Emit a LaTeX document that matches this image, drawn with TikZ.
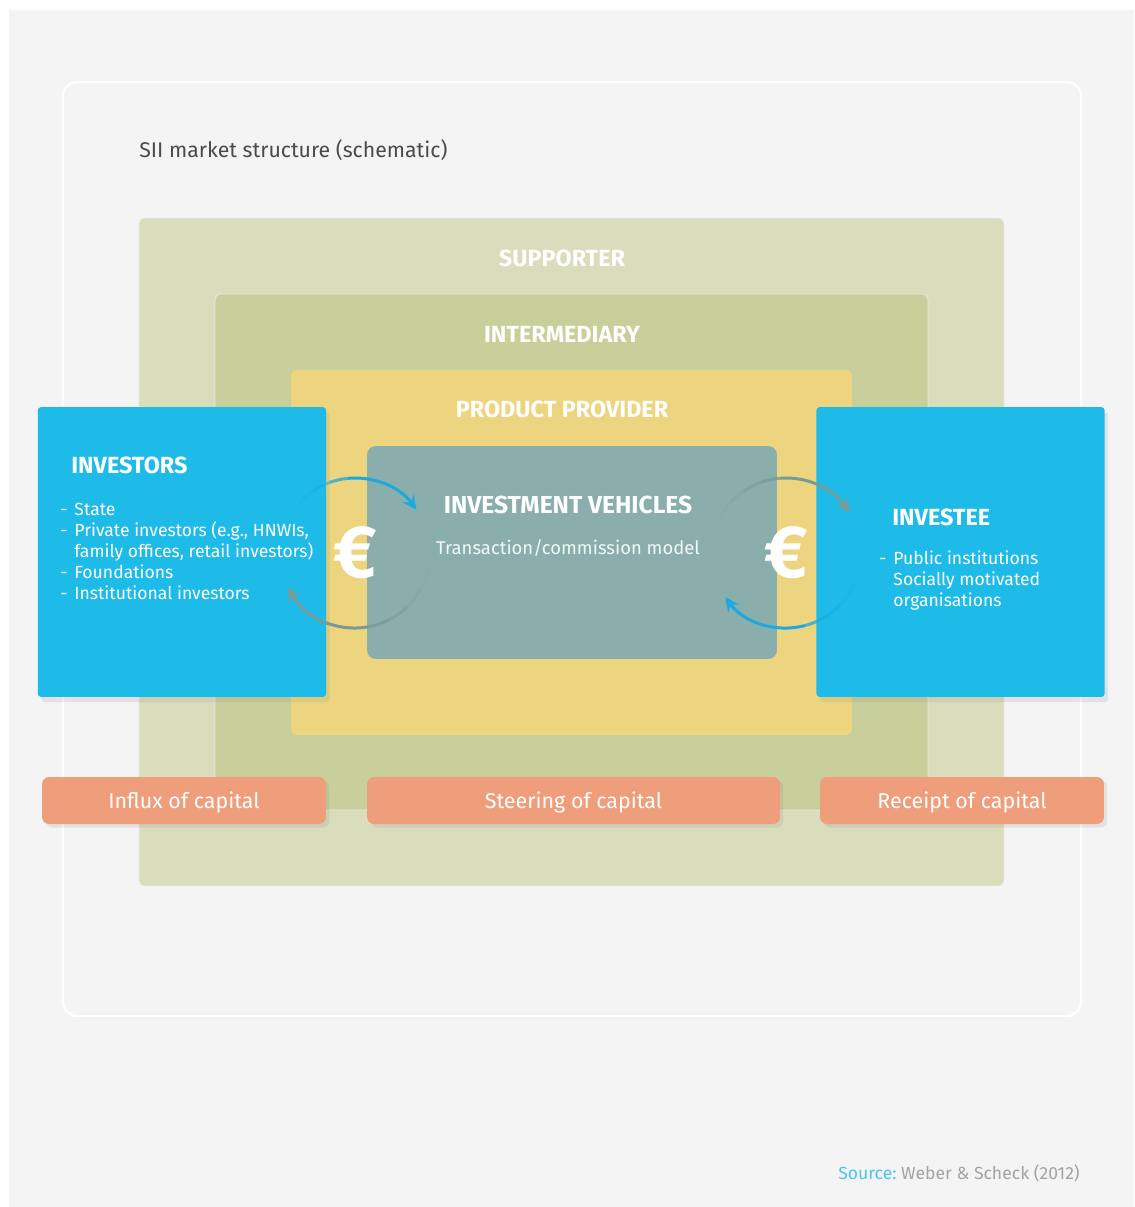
\documentclass[tikz,border=0pt]{standalone}
\usepackage{fontspec}
\setmainfont{Fira Sans}
\usetikzlibrary{arrows.meta, positioning, shadows}
\definecolor{pagegray}{HTML}{F4F4F4}
\definecolor{supportergreen}{HTML}{D9DDBC}
\definecolor{intergreen}{HTML}{C8CF9A}
\definecolor{productyellow}{HTML}{EDD57F}
\definecolor{vehiclegray}{HTML}{8AAEAB}
\definecolor{actorblue}{HTML}{1EBBE8}
\definecolor{capitalred}{HTML}{EF9E7C}
\definecolor{titlegray}{HTML}{4A4A4A}
\definecolor{sourceblue}{HTML}{4DC3EE}
\definecolor{sourcegray}{HTML}{A3A3A3}
\definecolor{arrowblue}{HTML}{1CA8E0}
\definecolor{arrowgray}{HTML}{789A98}
\def\eurorad{75}
\newcommand{\fadearc}[4]{%
  \pgfmathsetmacro\fstep{(#3-(#2))*0.12}%
  \foreach \k/\o in {0/0.08,1/0.25,2/0.5,3/0.78}{%
    \draw[#4, line width=1.7pt, opacity=\o] ([shift={(#2+\k*\fstep:\eurorad)}]#1.center)
      arc[start angle=#2+\k*\fstep, delta angle=\fstep, radius=\eurorad];}%
  \draw[#4, line width=1.7pt, -{Stealth[length=8pt, width=7.5pt]}] ([shift={(#2+4*\fstep:\eurorad)}]#1.center)
    arc[start angle=#2+4*\fstep, end angle=#3, radius=\eurorad];}

\begin{document}
\begin{tikzpicture}[x=0.02cm, y=-0.02cm]
    \tikzstyle{layer}=[rectangle, rounded corners=3pt, inner sep=0pt, draw=black!8]
    \tikzstyle{layer title}=[text=white, font=\bfseries\fontsize{13.3}{15}\selectfont]
    \tikzstyle{actor}=[rectangle, rounded corners=2pt, fill=actorblue, inner sep=0pt, minimum width=5.77cm, minimum height=5.8cm, drop shadow={opacity=.15, shadow xshift=2pt, shadow yshift=-3pt}]
    \tikzstyle{item}=[text=white, font=\fontsize{10}{12}\selectfont, align=left, inner sep=0pt]
    \tikzstyle{capital}=[rectangle, rounded corners=4pt, fill=capitalred, text=white, font=\fontsize{12.2}{14}\selectfont, minimum height=0.94cm, inner sep=0pt, text depth=0pt, drop shadow={opacity=.15, shadow xshift=2pt, shadow yshift=-2pt}]
    \tikzstyle{euro}=[text=white, font=\bfseries\fontsize{42}{42}\selectfont, inner sep=0pt]

    % page and frame
    \useasboundingbox (0,0) rectangle (1134,1207);
    \fill[white] (0,0) rectangle (1134,1207);
    \fill[pagegray] (9,10) rectangle (1134,1207);
    \draw[white, line width=1.2pt, rounded corners=8pt] (63,82) rectangle (1081,1016);
    \node[anchor=west, text=titlegray, font=\fontsize{12.1}{14}\selectfont, inner sep=0pt] (title) at (139,150) {SII market structure (schematic)};

    % nested layers
    \node[layer, fill=supportergreen, minimum width=17.3cm, minimum height=13.36cm] (supporter) at (571.5,552) {};
    \node[layer, fill=intergreen, minimum width=14.26cm, minimum height=10.32cm] (intermediary) at (571.5,552) {};
    \node[layer, fill=productyellow, minimum width=11.22cm, minimum height=7.3cm, draw=none] (product) at (571.5,552.5) {};
    \node[layer, fill=vehiclegray, minimum width=8.2cm, minimum height=4.26cm, draw=none, rounded corners=5pt] (vehicles) at (572,552.5) {};
    \node[layer title] (supporter-t) at (562,258) {SUPPORTER};
    \node[layer title] (intermediary-t) at (562,334) {INTERMEDIARY};
    \node[layer title] (product-t) at (562,409) {PRODUCT PROVIDER};
    \node[layer title, font=\bfseries\fontsize{14}{15}\selectfont] (vehicles-t) at (568,505) {INVESTMENT VEHICLES};
    \node[text=white!90!vehiclegray, font=\fontsize{10.5}{12}\selectfont] (vehicles-s) at (568,548) {Transaction/commission model};

    % investors and investee
    \node[actor] (investors) at (182,552) {};
    \node[actor] (investee) at (960.5,552) {};
    \node[layer title, anchor=west, inner sep=0pt] (investors-t) at (71,465) {INVESTORS};
    \node[layer title, anchor=west, inner sep=0pt] (investee-t) at (892,517) {INVESTEE};
    \node[item, anchor=base west] (investors-l) at (60,515) {%
        \begin{tabular}[t]{@{}l@{\hspace{4pt}}l@{}}
        - & State\\
        - & Private investors (e.g., HNWIs,\\
          & family offices, retail investors)\\
        - & Foundations\\
        - & Institutional investors
        \end{tabular}};
    \node[item, anchor=base west] (investee-l) at (879,564) {%
        \begin{tabular}[t]{@{}l@{\hspace{4pt}}l@{}}
        - & Public institutions\\
          & Socially motivated\\
          & organisations
        \end{tabular}};

    % capital flow
    \foreach \name/\cx/\w/\txt in {influx/184/5.68/Influx of capital, steering/573.5/8.26/Steering of capital, receipt/962/5.68/Receipt of capital}{
        \node[capital, minimum width=\w cm] (\name) at (\cx,800.5) {\txt};
    }

    % money cycles
    \node[euro] (eurL) at (355,553) {€};
    \node[euro] (eurR) at (786,553) {€};
    \fadearc{eurL}{-152}{-35}{arrowblue}
    \fadearc{eurL}{13}{153}{arrowgray}
    \fadearc{eurR}{-153}{-32}{arrowgray}
    \fadearc{eurR}{12}{144}{arrowblue}

    \node[anchor=east, font=\fontsize{10}{12}\selectfont, inner sep=0pt] (source) at (1080,1173) {\textcolor{sourceblue}{Source:}\ \textcolor{sourcegray}{Weber \& Scheck (2012)}};
\end{tikzpicture}
\end{document}
